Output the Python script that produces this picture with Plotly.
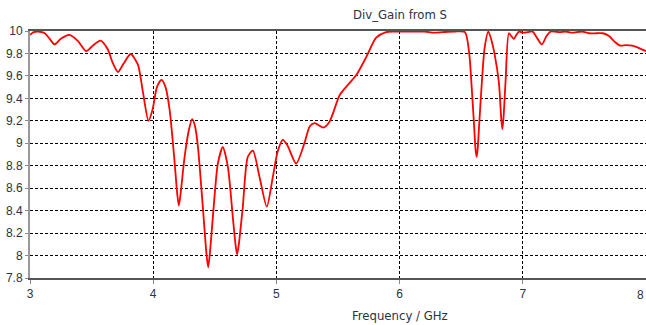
import plotly.graph_objects as go

freq = [3.000, 3.03, 3.065, 3.12, 3.16, 3.20, 3.25, 3.32, 3.39, 3.457, 3.51, 3.573,
        3.63, 3.67, 3.714, 3.76, 3.817, 3.876, 3.916, 3.962, 3.995, 4.03, 4.068, 4.10,
        4.133, 4.17, 4.195, 4.208, 4.222, 4.255, 4.29, 4.316, 4.34, 4.363, 4.403, 4.432,
        4.446, 4.46, 4.484, 4.525, 4.565, 4.606, 4.646, 4.668, 4.681, 4.695, 4.727, 4.768,
        4.809, 4.863, 4.922, 4.971, 5.011, 5.052, 5.09, 5.16, 5.23, 5.27, 5.31, 5.38,
        5.43, 5.514, 5.568, 5.65, 5.73, 5.81, 5.89, 5.96, 6.06, 6.2, 6.28, 6.35,
        6.45, 6.53, 6.565, 6.585, 6.605, 6.616, 6.625, 6.634, 6.645, 6.665, 6.69, 6.72,
        6.745, 6.77, 6.806, 6.825, 6.834, 6.843, 6.86, 6.887, 6.91, 6.928, 6.95, 6.97,
        7.0, 7.04, 7.08, 7.12, 7.155, 7.19, 7.225, 7.30, 7.35, 7.40, 7.48, 7.536,
        7.60, 7.65, 7.70, 7.75, 7.79, 7.84, 7.888, 7.94, 8.0]
gain = [9.965, 9.99, 9.995, 9.98, 9.93, 9.88, 9.93, 9.965, 9.91, 9.82, 9.87, 9.915,
        9.84, 9.72, 9.635, 9.71, 9.795, 9.70, 9.46, 9.20, 9.30, 9.50, 9.565, 9.50,
        9.30, 8.88, 8.55, 8.445, 8.55, 8.88, 9.12, 9.215, 9.15, 8.97, 8.43, 8.02,
        7.895, 8.02, 8.34, 8.82, 8.965, 8.79, 8.345, 8.10, 8.01, 8.10, 8.43, 8.88,
        8.935, 8.70, 8.435, 8.70, 8.93, 9.03, 8.98, 8.82, 9.01, 9.15, 9.18, 9.14,
        9.19, 9.43, 9.505, 9.61, 9.77, 9.94, 9.99, 9.995, 9.995, 9.995, 9.985, 9.99,
        9.995, 9.99, 9.80, 9.50, 9.15, 8.95, 8.88, 8.95, 9.15, 9.50, 9.85, 9.995,
        9.92, 9.80, 9.54, 9.22, 9.125, 9.22, 9.55, 9.98, 9.95, 9.93, 9.97, 9.995,
        9.985, 9.99, 9.995, 9.93, 9.88, 9.95, 9.995, 9.99, 9.995, 9.985, 9.995, 9.98,
        9.98, 9.98, 9.955, 9.90, 9.87, 9.875, 9.87, 9.85, 9.82]

x_ticks = [3, 4, 5, 6, 7]
x_last_tick = 8
y_ticks = [7.8, 8, 8.2, 8.4, 8.6, 8.8, 9, 9.2, 9.4, 9.6, 9.8, 10]
y_labels = ["7.8", "8", "8.2", "8.4", "8.6", "8.8", "9", "9.2", "9.4", "9.6", "9.8", "10"]

title_text = "Div_Gain from S"
xlabel_text = "Frequency / GHz"

tick_font = dict(family="Liberation Sans, Arial, sans-serif", size=12, color="#2b3340")
label_font = dict(family="Liberation Sans Narrow, DejaVu Sans Condensed, Liberation Sans, sans-serif",
                  size=13, color="#2b3340")

fig = go.Figure()
fig.add_trace(go.Scatter(
    x=freq, y=gain, mode="lines",
    line=dict(color="#ff0000", width=1.8, shape="spline", smoothing=0.7),
    hoverinfo="skip", showlegend=False,
))

fig.update_layout(
    width=646, height=325,
    margin=dict(l=30, r=0, t=31, b=47),
    paper_bgcolor="white", plot_bgcolor="white",
    xaxis=dict(
        range=[3, 8], tickvals=x_ticks + [x_last_tick],
        ticktext=[str(v) for v in x_ticks] + [""],
        showgrid=True, gridcolor="#000000", gridwidth=1, griddash="3px,2px",
        zeroline=False, showline=True, linecolor="#555555", linewidth=2,
        mirror=True, ticks="outside", ticklen=4, tickcolor="#888888", tickwidth=1,
        tickfont=tick_font, layer="below traces", fixedrange=True,
    ),
    yaxis=dict(
        range=[7.8, 10], tickvals=y_ticks, ticktext=y_labels,
        showgrid=True, gridcolor="#000000", gridwidth=1, griddash="3px,2px",
        zeroline=False, showline=True, linecolor="#999999", linewidth=2,
        ticks="outside", ticklen=3, tickcolor="#888888", tickwidth=1,
        tickfont=tick_font, layer="below traces", fixedrange=True,
    ),
    annotations=[
        dict(text=title_text, xref="paper", yref="paper", x=0.6006, y=1.065,
             xanchor="center", yanchor="middle", showarrow=False, font=label_font),
        dict(text=xlabel_text, xref="paper", yref="paper", x=0.6006, y=-0.15,
             xanchor="center", yanchor="middle", showarrow=False, font=label_font),
        dict(text=str(x_last_tick), xref="x", yref="paper", x=x_last_tick, y=-0.068,
             xanchor="right", yanchor="middle", showarrow=False, font=tick_font),
    ],
)

fig.write_html("out.html")
